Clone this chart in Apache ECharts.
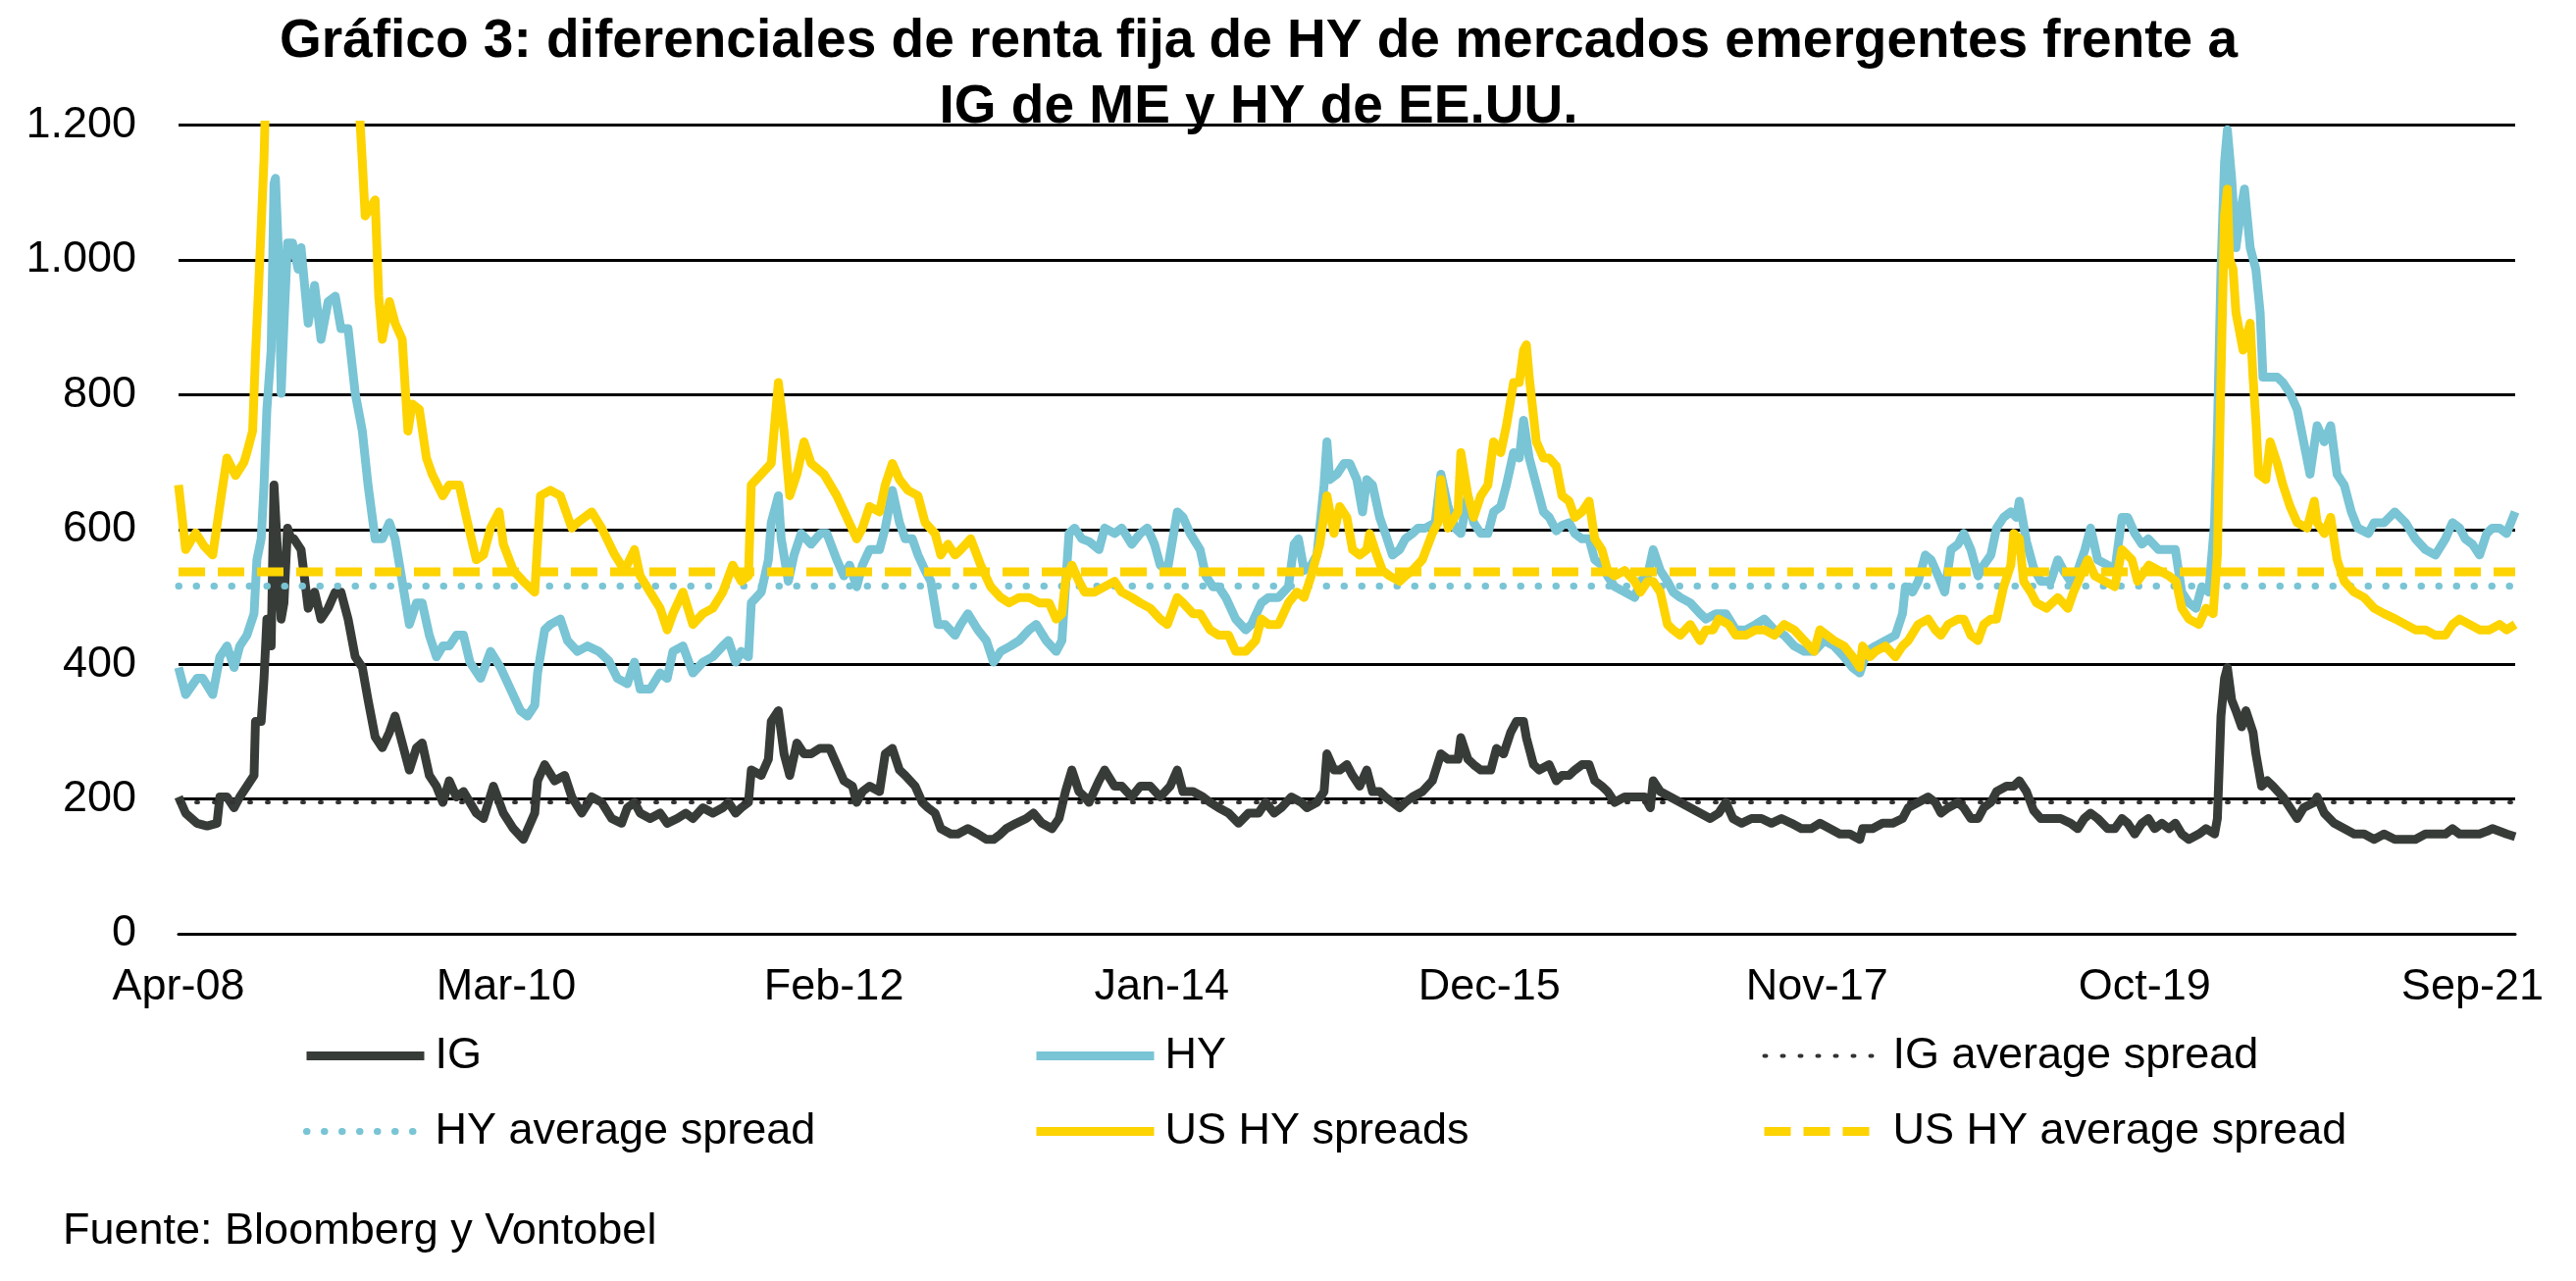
<!DOCTYPE html>
<html>
<head>
<meta charset="utf-8">
<script src="https://cdn.jsdelivr.net/npm/echarts@6/dist/echarts.min.js"></script>
<style>
html,body{margin:0;padding:0;background:#fff;}
#c{width:2626px;height:1306px;}
</style>
</head>
<body>
<div id="c"></div>
<script>
// x values: months elapsed since Apr-2008; y values: spread in bp
const xLabels = ['Apr-08','Mar-10','Feb-12','Jan-14','Dec-15','Nov-17','Oct-19','Sep-21'];
const xLabelStep = 23; // months between labels
const xEnd = 164;      // last month shown (Dec-21)

const igAvg = 195;
const hyAvg = 516;
const usHyAvg = 537;

const ig = [[0,203],[0.5,179],[1.3,164],[2,160],[2.7,164],[2.9,203],[3.4,203],[3.9,187],[4.3,203],[4.8,219],[5.3,235],[5.4,315],[5.8,315],[6,379],[6.2,467],[6.5,427],[6.7,666],[6.8,666],[6.9,586],[7.2,467],[7.4,491],[7.65,602],[7.9,586],[8.1,586],[8.6,570],[9.1,483],[9.55,507],[10,467],[10.5,483],[11,507],[11.4,507],[11.9,467],[12.4,411],[12.9,395],[13.3,347],[13.8,292],[14.3,276],[14.8,299],[15.2,323],[15.7,283],[16.2,243],[16.7,276],[17.1,283],[17.6,235],[18.1,219],[18.55,195],[19,227],[19.5,203],[20,211],[20.45,195],[20.9,179],[21.4,171],[22.1,219],[22.8,179],[23.5,156],[24.2,140],[25,179],[25.2,227],[25.7,251],[26.4,227],[27.1,235],[27.6,203],[28.3,179],[29,203],[29.7,195],[30.4,171],[31.1,164],[31.5,187],[32,195],[32.4,179],[33.1,171],[33.8,179],[34.3,164],[35,171],[35.6,179],[36.1,171],[36.8,187],[37.5,179],[38.2,187],[38.6,195],[39.1,179],[39.5,187],[40,195],[40.2,243],[40.9,235],[41.4,259],[41.6,315],[42.1,331],[42.5,267],[42.9,235],[43.4,283],[43.9,267],[44.4,267],[45,275],[45.7,275],[46.2,251],[46.7,227],[47.3,219],[47.6,195],[48,211],[48.5,219],[49.2,211],[49.6,267],[50.1,275],[50.6,243],[51,235],[51.7,219],[52.2,195],[52.6,187],[53.1,179],[53.5,156],[54.2,148],[54.7,148],[55.4,156],[56.1,148],[56.7,140],[57.2,140],[57.7,148],[58.1,156],[58.8,164],[59.5,171],[60,179],[60.6,164],[61.3,156],[61.8,171],[62.25,211],[62.7,243],[63.2,211],[63.6,203],[63.9,195],[64.6,227],[65,243],[65.7,219],[66.2,219],[66.9,203],[67.5,219],[68.2,219],[68.9,203],[69.6,219],[70.1,243],[70.5,211],[71.2,211],[71.9,203],[72.4,195],[73,187],[73.7,179],[74.4,164],[75.1,179],[75.8,179],[76.3,195],[76.9,179],[77.4,187],[78.1,203],[78.8,195],[79.2,187],[79.9,195],[80.4,211],[80.6,267],[81.1,243],[81.5,243],[82,251],[82.4,235],[82.9,219],[83.4,243],[83.8,211],[84.3,211],[84.7,203],[85.2,195],[85.7,187],[86.1,195],[86.6,203],[87.3,211],[88,227],[88.6,267],[89.1,259],[89.8,259],[90,291],[90.5,259],[90.9,251],[91.4,243],[92.1,243],[92.5,275],[93,267],[93.5,299],[93.9,315],[94.4,315],[94.6,291],[95.1,251],[95.5,243],[96.2,251],[96.7,227],[97.1,235],[97.6,235],[98,243],[98.5,251],[99,251],[99.4,227],[99.9,219],[100.3,211],[100.8,195],[101.5,203],[102.2,203],[102.9,203],[103.3,187],[103.5,227],[104,211],[104.7,203],[105.4,195],[106.1,187],[106.8,179],[107.5,171],[108.1,179],[108.6,195],[109.1,171],[109.7,164],[110.4,171],[111.1,171],[111.8,164],[112.5,171],[113.2,164],[113.9,156],[114.6,156],[115.2,164],[115.9,156],[116.6,148],[117.3,148],[118,140],[118.2,156],[118.9,156],[119.6,164],[120.3,164],[121,171],[121.4,187],[122.1,195],[122.8,203],[123.3,195],[123.7,179],[124.2,187],[124.9,195],[125.3,187],[125.8,171],[126.3,171],[126.7,187],[127.2,195],[127.6,211],[128.3,219],[128.8,219],[129.2,227],[129.7,211],[130.2,183],[130.7,171],[131.4,171],[132.1,171],[132.8,164],[133.3,156],[133.75,171],[134.2,179],[134.7,171],[135.4,156],[135.9,156],[136.4,171],[136.8,164],[137.3,148],[137.8,164],[138.25,171],[138.7,156],[139.2,164],[139.7,156],[140.15,164],[140.6,148],[141.1,140],[141.8,148],[142.3,156],[142.9,148],[143.1,171],[143.35,323],[143.6,379],[143.8,395],[144.1,347],[144.4,331],[144.8,307],[145.1,331],[145.6,299],[145.8,267],[146.2,219],[146.6,227],[147,219],[147.7,203],[148.2,187],[148.7,171],[149.15,187],[149.9,195],[150.1,203],[150.6,179],[151.3,164],[152,156],[152.7,148],[153.4,148],[154.1,140],[154.8,148],[155.55,140],[156.3,140],[157,140],[157.7,148],[158.4,148],[159.1,148],[159.6,156],[160.1,148],[160.5,148],[161,148],[161.5,148],[162,152],[162.4,156],[162.9,152],[163.4,148],[164,144]];

const hy = [[0,395],[0.5,355],[1.3,379],[1.7,379],[2.4,355],[2.9,411],[3.4,427],[3.9,395],[4.3,427],[4.8,443],[5.3,475],[5.5,555],[5.8,586],[6,666],[6.2,778],[6.5,866],[6.7,1113],[6.8,1121],[7.06,986],[7.2,802],[7.4,906],[7.65,1025],[8,1025],[8.4,986],[8.6,1018],[9.1,906],[9.55,962],[10,882],[10.5,938],[11,946],[11.4,898],[11.9,898],[12.4,802],[12.9,746],[13.3,666],[13.8,586],[14.3,586],[14.8,610],[15.2,586],[15.7,523],[16.2,459],[16.7,491],[17.1,491],[17.6,443],[18.1,411],[18.55,427],[19,427],[19.5,443],[20,443],[20.45,403],[21.2,379],[21.9,419],[22.6,395],[23.3,363],[24,331],[24.5,323],[25,339],[25.2,387],[25.7,451],[26.1,459],[26.8,467],[27.3,435],[28,419],[28.7,427],[29.5,419],[30.2,405],[30.8,379],[31.5,371],[32,403],[32.4,363],[33.1,363],[33.8,387],[34.3,379],[34.7,419],[35.4,427],[36.1,387],[36.8,403],[37.5,411],[38.2,427],[38.6,435],[39.1,403],[39.5,419],[40,411],[40.2,491],[40.9,507],[41.4,555],[41.6,610],[42.1,650],[42.3,586],[42.8,523],[43.2,562],[43.7,594],[44.4,578],[45.05,594],[45.5,594],[46.2,555],[46.7,531],[47.1,547],[47.6,515],[48,547],[48.5,570],[49.2,570],[49.6,602],[50.1,658],[50.6,610],[51,586],[51.5,586],[51.9,562],[52.4,539],[52.8,523],[53.3,459],[53.8,459],[54.5,443],[54.9,459],[55.4,475],[56.1,451],[56.7,435],[57.2,403],[57.7,419],[58.4,427],[59,435],[59.7,451],[60.2,459],[60.9,435],[61.6,419],[62,435],[62.5,594],[62.9,602],[63.4,586],[63.9,582],[64.6,570],[65,602],[65.7,594],[66.2,602],[66.9,578],[67.5,594],[68,602],[68.5,578],[68.9,547],[69.4,539],[70.1,626],[70.5,618],[71,594],[71.7,570],[72.1,531],[72.6,515],[73,515],[73.5,499],[74.2,467],[74.9,451],[75.3,459],[76,491],[76.5,499],[77.2,499],[77.9,515],[78.3,578],[78.6,586],[79,539],[79.5,547],[79.9,562],[80.4,666],[80.6,730],[80.8,674],[81.3,682],[81.8,698],[82.2,698],[82.7,674],[83.1,626],[83.4,674],[83.8,666],[84.3,618],[84.7,594],[85.2,562],[85.7,570],[86.1,586],[86.6,594],[87,602],[87.5,602],[88.2,610],[88.6,682],[89.1,634],[89.6,602],[90,594],[90.5,650],[90.9,610],[91.4,594],[91.9,594],[92.3,626],[92.8,634],[93.2,666],[93.7,714],[94.1,706],[94.4,762],[94.8,706],[95.3,666],[95.8,626],[96.2,618],[96.7,598],[97.1,606],[97.6,610],[98,594],[98.5,586],[99,586],[99.4,555],[99.9,547],[100.3,531],[100.8,515],[101.5,507],[102.2,499],[102.6,523],[103.1,531],[103.5,570],[104,539],[104.5,523],[104.9,507],[105.4,499],[106.1,491],[106.8,475],[107.2,467],[107.9,475],[108.6,475],[109.3,451],[110,451],[110.7,459],[111.3,467],[112,451],[112.7,443],[113.4,427],[114.1,419],[114.8,419],[115.5,435],[116.2,427],[116.9,411],[117.5,395],[118,387],[118.5,419],[119.1,427],[119.8,435],[120.5,443],[121,475],[121.2,515],[121.7,507],[122.1,523],[122.6,562],[123,555],[123.5,531],[123.96,507],[124.4,570],[124.9,578],[125.3,594],[125.8,570],[126.3,531],[126.7,547],[127.2,562],[127.6,602],[128.1,618],[128.6,626],[129,618],[129.2,642],[129.7,582],[130.2,543],[130.7,523],[131.4,523],[131.9,555],[132.3,539],[132.8,523],[133.3,539],[133.8,570],[134.2,602],[134.7,555],[135.4,547],[135.9,539],[136.4,618],[136.8,618],[137.3,594],[137.8,578],[138.25,586],[138.97,570],[139.7,570],[140.15,570],[140.6,507],[141.1,491],[141.6,483],[142,515],[142.5,507],[142.9,610],[143.1,746],[143.35,986],[143.6,1145],[143.8,1193],[144.1,1121],[144.4,1018],[144.8,1081],[145,1105],[145.4,1018],[145.8,986],[146.1,922],[146.3,826],[146.8,826],[147.3,826],[147.7,818],[148.2,802],[148.7,778],[149.15,730],[149.6,682],[150.1,754],[150.6,730],[151.05,754],[151.5,682],[152,666],[152.5,626],[152.95,602],[153.7,594],[154.1,610],[154.8,610],[155.55,626],[156.3,610],[157,586],[157.7,570],[158.4,562],[159.1,586],[159.6,610],[160.1,602],[160.5,586],[161,578],[161.5,562],[162,594],[162.4,602],[162.9,602],[163.4,594],[164,626]];

const usHy = [[0,666],[0.5,570],[1.2,595],[1.8,575],[2.4,562],[3,650],[3.4,706],[4,680],[4.6,700],[4.8,714],[5.2,746],[5.4,858],[5.6,950],[6,1150],[6.3,1400],[6.6,1550],[7.5,1800],[8.5,1950],[9.5,1700],[10.5,1750],[11.5,1800],[12.3,1450],[12.7,1220],[12.9,1145],[13.1,1065],[13.8,1089],[14.05,946],[14.3,882],[14.8,938],[15.2,906],[15.7,882],[16.1,746],[16.4,786],[16.9,778],[17.4,706],[17.8,682],[18.55,650],[19,666],[19.7,666],[20.2,618],[20.9,555],[21.4,562],[21.9,602],[22.5,626],[22.8,578],[23.5,539],[24.2,523],[25,507],[25.4,650],[26.1,658],[26.8,650],[27.6,602],[28,610],[29,626],[29.7,602],[30.6,563],[31.3,539],[32,570],[32.4,531],[33.1,507],[33.8,483],[34.3,451],[34.7,475],[35.4,507],[36.1,459],[36.8,475],[37.5,483],[38.2,507],[38.9,547],[39.5,523],[40,531],[40.2,666],[40.9,682],[41.6,698],[42.1,818],[42.5,746],[42.9,650],[43.4,682],[43.9,730],[44.4,698],[45.3,682],[46.2,650],[46.9,618],[47.6,586],[48,602],[48.5,634],[49.2,626],[49.6,666],[50.1,698],[50.6,674],[51.2,658],[51.9,650],[52.4,610],[53.1,594],[53.5,562],[54,578],[54.5,562],[54.9,570],[55.6,586],[56.3,547],[57,515],[57.7,499],[58.3,491],[59,499],[59.7,499],[60.4,491],[61.1,491],[61.6,467],[62,475],[62.25,523],[62.7,547],[63.2,523],[63.6,507],[64.3,507],[65,515],[65.7,523],[66.2,507],[66.9,499],[67.5,491],[68.2,483],[68.9,467],[69.4,459],[70.1,499],[70.5,491],[71.2,475],[71.7,475],[72.4,451],[73,443],[73.7,443],[74.2,419],[74.9,419],[75.6,435],[76,467],[76.5,459],[77.2,459],[77.9,491],[78.5,507],[79,499],[79.5,531],[80.1,578],[80.6,650],[81.1,594],[81.5,634],[82,618],[82.4,570],[82.9,562],[83.4,570],[83.6,594],[84.1,562],[84.5,539],[85,531],[85.7,523],[86.1,531],[86.6,539],[87.3,555],[88,594],[88.4,610],[88.6,674],[89.1,602],[89.8,626],[90,714],[90.5,650],[90.9,618],[91.4,650],[91.9,666],[92.3,730],[92.8,714],[93.2,754],[93.7,818],[94.1,818],[94.4,866],[94.6,874],[94.8,826],[95.3,730],[95.8,706],[96.2,706],[96.7,694],[97.1,650],[97.6,642],[98,618],[98.5,626],[99,642],[99.4,586],[99.9,570],[100.3,539],[100.8,531],[101.5,539],[102.2,523],[102.6,507],[103.1,523],[103.5,523],[104,507],[104.5,459],[104.9,451],[105.4,443],[106.1,459],[106.8,435],[107.2,451],[107.7,451],[108.1,467],[108.8,459],[109.3,443],[110,443],[110.7,451],[111.3,451],[112,443],[112.7,459],[113.4,451],[114.1,435],[114.8,419],[115.2,451],[115.7,443],[116.2,435],[116.9,427],[117.5,411],[118,395],[118.2,427],[118.7,411],[119.1,419],[119.8,427],[120.5,411],[121,427],[121.4,435],[122.1,459],[122.8,467],[123.3,451],[123.7,443],[124.2,459],[124.9,467],[125.3,467],[125.8,443],[126.3,435],[126.7,459],[127.2,467],[127.6,467],[128.1,515],[128.6,547],[128.8,594],[129.2,586],[129.5,523],[130,507],[130.4,491],[131.1,483],[131.9,499],[132.6,483],[133,507],[133.5,531],[134,555],[134.5,531],[135.2,523],[135.9,515],[136.4,570],[137.1,555],[137.5,523],[138.3,547],[139,539],[139.7,531],[140.2,523],[140.6,483],[141.1,467],[141.8,459],[142.3,483],[142.8,475],[143.1,562],[143.35,826],[143.6,1065],[143.8,1105],[143.95,1002],[144.2,986],[144.4,922],[144.9,866],[145.4,906],[145.6,826],[145.8,762],[146,682],[146.5,674],[146.8,730],[147.3,698],[147.7,666],[148.2,634],[148.7,610],[149.4,602],[149.9,642],[150.1,610],[150.6,594],[151.05,618],[151.5,555],[152,523],[152.7,507],[153.4,499],[154.1,483],[154.8,475],[155.6,467],[156.3,459],[157,451],[157.7,451],[158.4,443],[159.1,443],[159.6,459],[160.1,467],[160.8,459],[161.5,451],[162.2,451],[162.9,459],[163.4,451],[164,459]];

const seriesNames = ['IG','HY','IG average spread','HY average spread','US HY spreads','US HY average spread'];

const FONT = '"Liberation Sans", Arial, Helvetica, sans-serif';
const C_IG = '#383c38', C_HY = '#79c4d5', C_US = '#fdd300';

const flat = v => [[0, v], [xEnd, v]];

const chart = echarts.init(document.getElementById('c'), null, {renderer: 'canvas'});

const legendBase = {
  orient: 'vertical', itemWidth: 120, itemHeight: 2, itemGap: 32,
  top: 1049,
  itemStyle: {opacity: 0},
  lineStyle: {width: 'inherit', type: 'inherit', cap: 'inherit'},
  textStyle: {fontSize: 45, color: '#000', fontFamily: FONT, lineHeight: 45, padding: [0,0,0,6]}
};

chart.setOption({
  backgroundColor: '#fff',
  animation: false,
  title: [
    {text: 'Gráfico 3: diferenciales de renta fija de HY de mercados emergentes frente a\nIG de ME y HY de EE.UU.',
     left: 1278, top: 4, textAlign: 'center',
     textStyle: {fontSize: 55, fontWeight: 'bold', color: '#000', fontFamily: FONT, lineHeight: 67}},
    {text: 'Fuente: Bloomberg y Vontobel', left: 59, top: 1228,
     textStyle: {fontSize: 45, fontWeight: 'normal', color: '#000', fontFamily: FONT, lineHeight: 45}}
  ],
  legend: [
    Object.assign({}, legendBase, {left: 303, data: [seriesNames[0], seriesNames[3]]}),
    Object.assign({}, legendBase, {left: 1047, data: [seriesNames[1], seriesNames[4]]}),
    Object.assign({}, legendBase, {left: 1789, data: [seriesNames[2], seriesNames[5]]})
  ],
  grid: {left: 182, right: 62, top: 127.5, bottom: 354, containLabel: false},
  xAxis: {
    type: 'value', min: 0, max: xEnd, interval: xLabelStep,
    splitLine: {show: false},
    axisTick: {show: false},
    axisLine: {show: true, lineStyle: {color: '#000', width: 3}},
    axisLabel: {
      fontSize: 45, color: '#000', fontFamily: FONT, margin: 32, lineHeight: 45,
      showMaxLabel: false,
      formatter: v => (v % xLabelStep === 0 ? (xLabels[v / xLabelStep] || '') : '')
    }
  },
  yAxis: {
    type: 'value', min: 0, max: 1200, interval: 200,
    axisLine: {show: false}, axisTick: {show: false},
    splitLine: {lineStyle: {color: '#000', width: 3}},
    axisLabel: {
      fontSize: 45, color: '#000', fontFamily: FONT, margin: 43,
      formatter: v => String(v).replace(/\B(?=(\d{3})+(?!\d))/g, '.')
    }
  },
  series: [
    {name: seriesNames[0], type: 'line', data: ig, symbol: 'none', z: 2,
     lineStyle: {color: C_IG, width: 9, join: 'round', cap: 'butt'}, itemStyle: {color: C_IG}},
    {name: seriesNames[1], type: 'line', data: hy, symbol: 'none', z: 2,
     lineStyle: {color: C_HY, width: 9, join: 'round', cap: 'butt'}, itemStyle: {color: C_HY}},
    {name: seriesNames[2], type: 'line', data: flat(igAvg), symbol: 'none', z: 3,
     lineStyle: {color: '#333', width: 4, type: [2, 16], cap: 'round'}, itemStyle: {color: '#333'}},
    {name: seriesNames[3], type: 'line', data: flat(hyAvg), symbol: 'none', z: 3,
     lineStyle: {color: C_HY, width: 7, type: [0.5, 17.5], cap: 'round'}, itemStyle: {color: C_HY}},
    {name: seriesNames[4], type: 'line', data: usHy, symbol: 'none', z: 3,
     lineStyle: {color: C_US, width: 9, join: 'round', cap: 'butt'}, itemStyle: {color: C_US}},
    {name: seriesNames[5], type: 'line', data: flat(usHyAvg), symbol: 'none', z: 4,
     lineStyle: {color: C_US, width: 9, type: [27, 13], cap: 'butt'}, itemStyle: {color: C_US}}
  ]
});
</script>
</body>
</html>
